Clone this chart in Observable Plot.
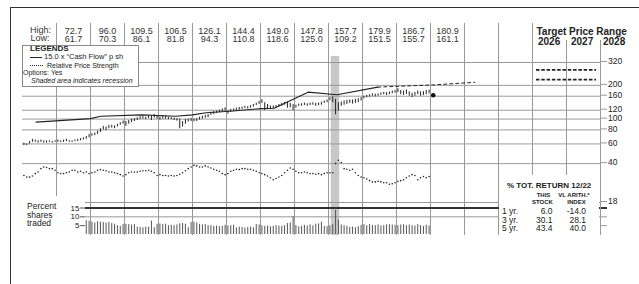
<!DOCTYPE html>
<html><head><meta charset="utf-8">
<script src="https://cdn.jsdelivr.net/npm/d3@7"></script>
<script src="https://cdn.jsdelivr.net/npm/@observablehq/plot@0.6"></script>
<style>
html,body{margin:0;padding:0;background:#fff;}
#chart{position:relative;width:639px;height:284px;overflow:hidden;font-family:"Liberation Sans",Arial,Helvetica,sans-serif;color:#222;}
#chart svg{position:absolute;left:0;top:0;}
.t{position:absolute;white-space:nowrap;line-height:0.9;}
.box{position:absolute;background:#fff;}
</style></head><body><div id="chart"></div>
<script>
// ---------- DATA ----------
const priceStartYear = 2011;
// monthly price high / low, Jan 2011 .. Dec 2022
const monthlyHigh = [
  61,60,63,66,65,64,65,64,64,64,63,64,
  65,64,65,66,64,64,65,66,67,68,70,72.7,
  74,75,78,82,86,85,88,88,87,90,93,96,
  95,97,100,101,103,105,106,104,107,106,109.5,107,
  104,106,106.5,104,103,102,101,100,95,99,100,101,
  100,101,104,106,108,110,115,117,118,120,123,126.1,
  118,122,123,125,127,128,130,129,132,135,139,144.4,
  149,140,135,131,131,132,135,138,141,142,138,135,
  133,136,137,139,137,139,140,138,139,141,145,147.8,
  155,157.7,150,140,142,145,147,148,148,150,152,155,
  160,163,165,168,167,168,171,173,172,174,178,179.9,
  186.7,180,178,182,175,170,173,178,175,176,180,181
];
const monthlyLow = [
  58,58,60,62,62,61,62,61,61,62,61,62,
  62,61.7,62,63,62,62,63,63,64,65,66,68,
  70.3,71,73,76,80,79,82,83,82,85,88,90,
  86.1,90,93,95,97,99,100,99,101,97,102,100,
  98,100,100,99,99,97,96,81.8,85,90,94,95,
  94.3,95,98,100,102,103,108,110,112,114,116,118,
  110.8,115,117,118,120,122,124,123,125,128,132,135,
  138,119,122,122,124,125,128,130,133,125,126,118.6,
  125,130,130,132,130,132,133,130,132,133,138,140,
  146,140,109.2,118,130,133,135,138,136,138,140,145,
  151.5,155,157,160,158,160,163,165,162,165,168,170,
  172,165,163,166,160,155.7,160,165,160,162,165,168
];
// relative price strength, monthly Jan 2011 .. Dec 2022
const relStrength = [
  31.4,30.4,30.3,31.0,32.6,33.7,36.1,37.4,37.0,36.1,36.1,34.9,
  33.2,32.6,32.6,33.2,33.7,34.9,34.9,33.7,34.2,33.2,33.7,32.6,
  33.2,33.7,34.9,35.4,34.9,34.6,33.7,33.7,33.2,32.6,31.9,31.0,
  31.9,33.2,33.7,33.7,33.7,34.2,34.6,34.6,34.9,34.2,33.2,31.4,
  31.9,31.4,31.4,31.0,31.4,31.0,31.4,32.2,33.2,34.6,36.1,37.4,
  38.6,38.2,37.4,37.4,38.2,37.4,36.6,35.6,34.9,34.2,32.6,31.9,
  32.6,34.2,34.9,35.6,35.4,36.1,36.1,35.6,35.6,34.9,34.2,33.2,
  32.6,31.9,31.0,29.9,28.7,29.5,30.4,31.4,33.2,34.9,36.6,35.6,
  34.2,33.2,33.2,33.7,33.2,32.6,32.6,32.2,32.6,31.9,32.6,33.2,
  33.2,33.2,40.2,42.8,41.0,36.1,35.6,34.9,35.6,33.2,31.4,30.4,
  29.9,29.2,28.2,27.5,27.5,27.8,27.5,27.0,27.0,26.2,26.5,27.0,
  27.8,28.2,28.7,29.9,31.0,31.9,31.4,28.7,29.9,30.7,29.9,30.7
];
// percent shares traded, monthly Nov 2012 .. Dec 2022
const volumeStartMonth = 22; // months after Jan 2011
const volume = [
  7.8,7.5,
  7.0,6.5,7.2,7.0,6.8,6.5,6.8,6.2,5.8,5.0,4.6,5.6,
  5.8,5.6,5.4,5.6,4.2,4.0,3.8,4.2,4.0,7.6,3.8,5.8,
  6.0,5.6,5.8,5.0,5.2,5.0,5.4,6.0,6.2,5.8,3.8,6.8,
  7.0,6.6,5.8,5.4,5.6,5.0,5.0,4.6,4.8,4.4,4.6,5.2,
  4.8,5.0,5.2,3.8,4.2,4.0,3.6,4.0,4.2,3.8,5.6,5.4,
  5.0,4.6,4.8,4.4,4.6,5.0,4.8,4.6,5.0,6.2,6.6,10.2,
  5.0,4.4,4.6,5.2,4.8,5.4,5.0,5.8,6.0,7.0,4.6,4.4,
  5.0,5.6,13.6,8.2,5.4,5.0,4.6,4.0,4.2,3.8,4.4,5.2,
  5.6,5.0,5.6,5.2,5.0,5.4,4.8,5.0,5.4,5.6,5.4,5.2,
  5.0,5.4,5.6,5.0,5.4,5.0,4.8,5.6,5.0,4.6,5.2,4.8
];
// 15.0 x "Cash Flow" per share line
const cashFlowT = [2011.4, 2013.0, 2013.3, 2014.5, 2015.5, 2016.0, 2016.4, 2017.2, 2018.0, 2018.4, 2019.4, 2020.25, 2021.45];
const cashFlowV = [94, 101, 106, 109, 106, 109, 114, 118, 124, 125, 174, 165, 193];
const cashProjT = [2021.45, 2023.1, 2024.3];
const cashProjV = [193, 202, 213];
// recent price
const recentT = [2023.08];
const recentV = [163];
// annual high / low
const hlYears = [2012,2013,2014,2015,2016,2017,2018,2019,2020,2021,2022,2023];
const hlHigh = [72.7,96.0,109.5,106.5,126.1,144.4,149.0,147.8,157.7,179.9,186.7,180.9];
const hlLow  = [61.7,70.3,86.1,81.8,94.3,110.8,118.6,125.0,109.2,151.5,155.7,161.1];
// target price range 2026-2028
const targetRange = [225, 275];
// recession
const recessionStart = [2020.08];
const recessionEnd = [2020.33];
// axis ticks
const priceTicks = [18, 40, 60, 80, 100, 120, 160, 200, 320];
const volumeTicks = [5, 10, 15];
// total return table
const returnPeriods = ["1 yr.", "3 yr.", "5 yr."];
const returnStock = [6.0, 30.1, 43.4];
const returnIndex = [-14.0, 28.1, 40.0];

// ---------- BUILD ----------
const W = 639, H = 284;
const chart = document.getElementById("chart");
const gridColor = "#999";
const ink = "#222";
const common = {background: "none", overflow: "visible", fontFamily: '"Liberation Sans", Arial, sans-serif'};
const xDomain = [2011, 2028];

const priceRows = monthlyHigh.map((h, i) => ({t: priceStartYear + (i + 0.5) / 12, hi: h, lo: monthlyLow[i]}));
const rsRows = relStrength.map((v, i) => ({t: priceStartYear + (i + 0.5) / 12, v}));
const volRows = volume.map((v, i) => ({t: priceStartYear + (i + volumeStartMonth + 0.5) / 12, v}));
const cashRows = cashFlowT.map((t, i) => ({t, v: cashFlowV[i]}));
const cashProjRows = cashProjT.map((t, i) => ({t, v: cashProjV[i]}));
const recentRows = recentT.map((t, i) => ({t, v: recentV[i]}));
const hlRows = hlYears.map((y, i) => ({x: y + 0.5, high: hlHigh[i], low: hlLow[i]}));
const recRows = recessionStart.map((s, i) => ({start: s, end: recessionEnd[i]}));

// layer 1: recession band + vertical grid
const gridPlot = Plot.plot({
  width: W, height: H,
  marginLeft: 22, marginRight: 39, marginTop: 23, marginBottom: 49,
  x: {domain: xDomain, axis: null, label: null},
  style: common,
  marks: [
    Plot.rect(recRows, {x1: "start", x2: "end", fill: "#c8c8c8", insetTop: 33}),
    Plot.ruleX([2012], {stroke: gridColor, insetBottom: 39}),
    Plot.ruleX(d3.range(2013, 2026), {stroke: gridColor}),
    Plot.ruleX([2026], {stroke: gridColor, insetBottom: 60}),
    Plot.ruleX([2027], {stroke: gridColor, insetTop: 17, insetBottom: 60}),
    Plot.ruleX([2028], {stroke: gridColor, insetTop: 17})
  ]
});
chart.appendChild(gridPlot);

// layer 2: price chart (log scale)
const pricePlot = Plot.plot({
  width: W, height: H,
  marginLeft: 22, marginRight: 39, marginTop: 62, marginBottom: 82,
  x: {domain: xDomain, axis: null, label: null},
  y: {type: "log", domain: [18, 320], axis: null, label: null},
  style: common,
  marks: [
    Plot.ruleY(priceTicks.filter(d => d > 18), {stroke: gridColor}),
    Plot.ruleY([18], {stroke: gridColor, insetLeft: 62.9}),
    Plot.axisY({anchor: "right", label: null, ticks: priceTicks, tickSize: 6, tickPadding: 1.5, fontSize: 8.5, stroke: gridColor, fill: ink, dy: -1, tickFormat: d => `${d}`}),
    Plot.ruleX(priceRows, {x: "t", y1: "lo", y2: "hi", stroke: ink, strokeWidth: 1}),
    Plot.line(cashRows, {x: "t", y: "v", stroke: ink, strokeWidth: 1.1}),
    Plot.line(cashProjRows, {x: "t", y: "v", stroke: ink, strokeWidth: 1, strokeDasharray: "3,3"}),
    Plot.dot(rsRows, {x: "t", y: "v", r: 0.8, fill: ink}),
    Plot.dot(recentRows, {x: "t", y: "v", r: 2.3, fill: "#111"}),
    Plot.ruleY(targetRange, {x1: 2026, x2: 2028, insetLeft: 4, insetRight: 4, stroke: ink, strokeWidth: 1.6, strokeDasharray: "3.5,1.8"}),
    Plot.text(hlRows, {x: "x", text: d => d.high.toFixed(1), frameAnchor: "top", lineAnchor: "bottom", dy: -29, fontSize: 9, fill: "#333"}),
    Plot.text(hlRows, {x: "x", text: d => d.low.toFixed(1), frameAnchor: "top", lineAnchor: "bottom", dy: -20.5, fontSize: 9, fill: "#333"})
  ]
});
chart.appendChild(pricePlot);

// layer 3: volume
const volPlot = Plot.plot({
  width: W, height: H,
  marginLeft: 84.9, marginRight: 39, marginTop: 207.5, marginBottom: 50,
  x: {domain: [2012.85, 2028], axis: null, label: null},
  y: {domain: [0, 15], axis: null, label: null},
  style: common,
  marks: [
    Plot.ruleY([10], {stroke: gridColor}),
    Plot.ruleY([15], {stroke: "#333", strokeWidth: 2}),
    Plot.ruleX(volRows, {x: "t", y1: 0, y2: "v", stroke: "#555"}),
    Plot.axisY({anchor: "left", label: null, ticks: volumeTicks, tickSize: 5, tickPadding: 1, fontSize: 8, stroke: "#555", fill: ink}),
    Plot.axisY({anchor: "right", label: null, ticks: [5, 10], tickSize: 6, stroke: gridColor, tickFormat: () => ""}),
    Plot.axisY({anchor: "right", label: null, ticks: [15], tickSize: 6, strokeWidth: 2, stroke: "#333", tickFormat: () => ""})
  ]
});
chart.appendChild(volPlot);

// ---------- HTML overlays ----------
function label(s, x, base, o = {}) {
  const size = o.size || 9;
  const d = document.createElement("div");
  d.className = "t";
  d.textContent = s;
  d.style.fontSize = size + "px";
  d.style.fontWeight = o.weight || "normal";
  d.style.fontStyle = o.italic ? "italic" : "normal";
  d.style.color = o.color || ink;
  // line-height 0.9: baseline sits 0.7965em below the box top for Liberation Sans
  d.style.top = (base - 0.7965 * size) + "px";
  d.style.left = x + "px";
  if (o.align === "right") d.style.transform = "translateX(-100%)";
  if (o.align === "center") d.style.transform = "translateX(-50%)";
  chart.appendChild(d);
  return d;
}
function box(x, y, w, h, css = "") {
  const d = document.createElement("div");
  d.className = "box";
  d.style.cssText += `left:${x}px;top:${y}px;width:${w}px;height:${h}px;${css}`;
  chart.appendChild(d);
  return d;
}

// outer border
box(10, 6.5, 629, 1, "background:#333;");
box(9.5, 6.5, 1, 278, "background:#333;");

// header labels
label("High:", 30, 33, {size: 9, color: "#333"});
label("Low:", 30.5, 41.5, {size: 9, color: "#333"});

// legend box
box(22, 45, 115, 40, "border:1px solid #888;");
label("LEGENDS", 30, 51.5, {size: 8, weight: "bold"});
box(30, 56.8, 12, 1.2, "background:#222;");
label("15.0 x \u201cCash Flow\u201d p sh", 44, 60, {size: 7.5});
box(30, 64.6, 13, 0, "border-top:1.3px dotted #222;background:none;");
label("Relative Price Strength", 47, 68.2, {size: 7});
label("Options: Yes", 23, 76, {size: 7});
label("Shaded area indicates recession", 31, 84, {size: 7, italic: true});

// target price range header
label("Target Price Range", 536.5, 35, {size: 10, weight: "bold"});
label("2026", 538, 45, {size: 10, weight: "bold"});
label("2027", 571, 45, {size: 10, weight: "bold"});
label("2028", 603, 45, {size: 10, weight: "bold"});

// volume labels
label("Percent", 27, 209.5, {size: 8.5});
label("shares", 27, 218.3, {size: 8.5});
label("traded", 27, 227, {size: 8.5});

// total return box
box(499, 176, 100, 64);
label("% TOT. RETURN 12/22", 507, 188, {size: 8, weight: "bold"});
label("THIS", 543.5, 198, {size: 6, weight: "bold", align: "center"});
label("STOCK", 542.5, 204.5, {size: 6, weight: "bold", align: "center"});
label("VL ARITH.*", 574, 198, {size: 6, weight: "bold", align: "center"});
label("INDEX", 576.5, 204.5, {size: 6, weight: "bold", align: "center"});
returnPeriods.forEach((p, i) => {
  const base = 215 + i * 8.5;
  label(p, 502, base, {size: 8.5});
  label(returnStock[i].toFixed(1), 552.5, base, {size: 8.5, align: "right"});
  label(returnIndex[i].toFixed(1), 586, base, {size: 8.5, align: "right"});
});
</script></body></html>
